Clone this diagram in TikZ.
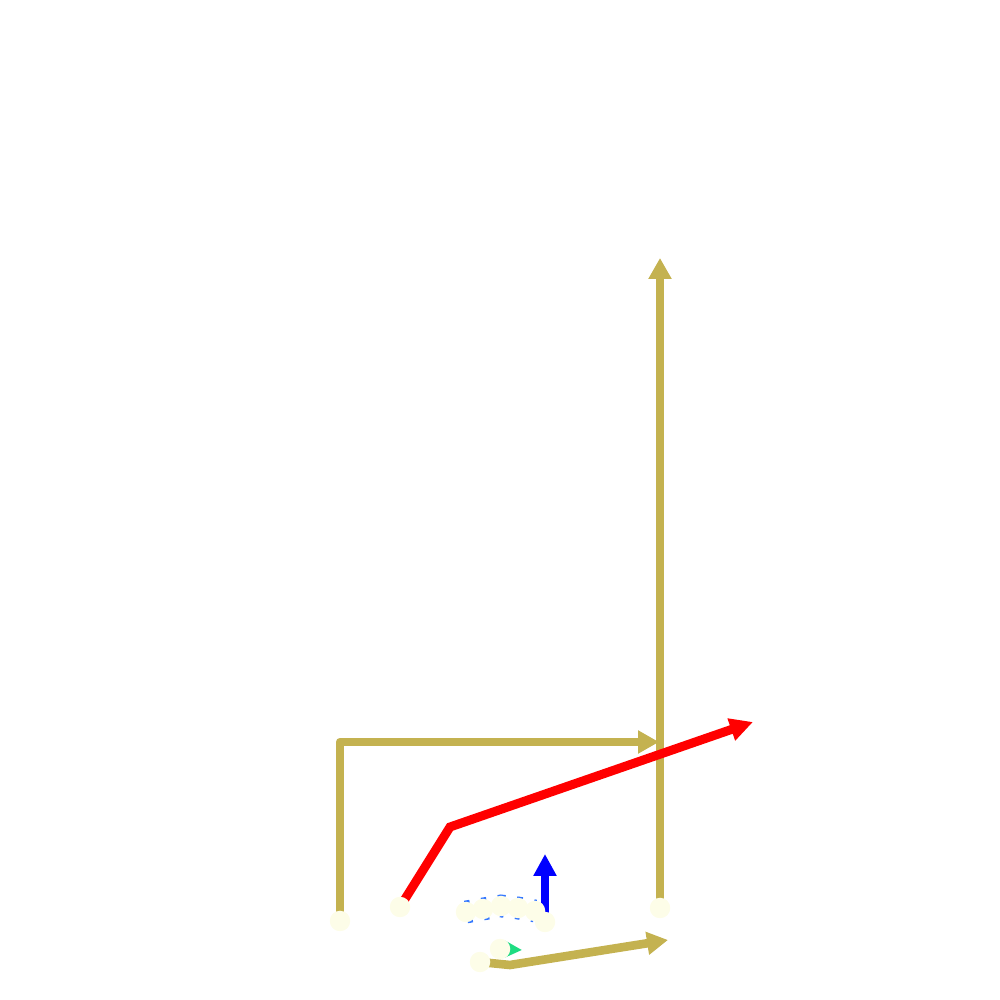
\documentclass[tikz,border=0pt]{standalone}
\usepackage{tikz}
\usetikzlibrary{arrows.meta, positioning, backgrounds}
\usepackage{xcolor}
\definecolor{gold}{RGB}{196,178,80}
\definecolor{cream}{RGB}{253,253,232}
\definecolor{pathred}{RGB}{255,0,0}
\definecolor{pathblue}{RGB}{0,0,255}
\definecolor{dashblue}{RGB}{51,119,255}
\definecolor{pathgreen}{RGB}{30,220,130}

\begin{document}
\begin{tikzpicture}[
  dot/.style={circle, fill=cream, inner sep=0pt, minimum size=0.41cm},
  goldline/.style={gold, line width=4.9pt, line join=round, -{Triangle[length=0.42cm, width=0.44cm]}},
  redline/.style={pathred, line width=5.1pt, -{Triangle[length=0.46cm, width=0.44cm]}},
  blueline/.style={pathblue, line width=4.8pt, -{Triangle[length=0.44cm, width=0.44cm]}},
  greenline/.style={pathgreen, line width=2pt, -{Triangle[length=0.34cm, width=0.32cm]}},
  dashline/.style={dashblue, line width=13pt, dash pattern={on 3pt off 6.6pt}}
]
  \useasboundingbox (0,0) rectangle (20,20);

  % start points
  \node[dot] (lstart) at (6.8, 1.58) {};
  \node[dot] (rstart) at (8.0, 1.86) {};
  \node[dot] (vstart) at (13.2, 1.84) {};
  \node[dot] (bstart) at (9.6, 0.76) {};
  \node[dot] (gstart) at (10.0, 1.02) {};
  \node[dot] (upstart) at (10.9, 1.56) {};

  % dashed chain
  \node[dot] (c1) at (9.32, 1.76) {};
  \node[dot] (c2) at (9.66, 1.82) {};
  \node[dot] (c3) at (10.02, 1.88) {};
  \node[dot] (c4) at (10.36, 1.84) {};
  \node[dot] (c5) at (10.70, 1.78) {};

  % bends and free ends
  \coordinate (lcorner) at (6.8, 5.16);
  \coordinate (lend) at (13.18, 5.16);
  \coordinate (rbend) at (9.0, 3.46);
  \coordinate (rend) at (15.06, 5.56);
  \coordinate (vend) at (13.2, 14.84);
  \coordinate (bbend) at (10.2, 0.70);
  \coordinate (bend) at (13.36, 1.2);
  \coordinate (gend) at (10.44, 1.0);
  \coordinate (upend) at (10.9, 2.92);

  \begin{scope}[on background layer]
    \draw[dashline] (c1.center) -- (c2.center) -- (c3.center) -- (c4.center) -- (c5.center);
    \draw[goldline] (lstart.center) -- (lcorner) -- (lend);
    \draw[goldline] (vstart.center) -- (vend);
    \draw[goldline] (bstart.center) -- (bbend) -- (bend);
    \draw[redline] (rstart.center) -- (rbend) -- (rend);
    \draw[blueline] (upstart.center) -- (upend);
    \draw[greenline] (gstart.center) -- (gend);
  \end{scope}
\end{tikzpicture}
\end{document}
